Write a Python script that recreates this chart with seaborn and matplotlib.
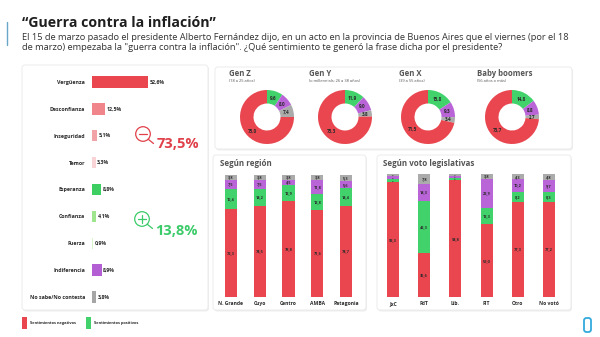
import numpy as np
import pandas as pd
import matplotlib
matplotlib.use('Agg')
import matplotlib.pyplot as plt
import seaborn as sns
from matplotlib.patches import FancyBboxPatch, Rectangle, Circle

# ---------------- data ----------------
sentiments = ['Vergüenza', 'Desconfianza', 'Inseguridad', 'Temor', 'Esperanza',
              'Confianza', 'Fuerza', 'Indiferencia', 'No sabe/No contesta']
sentiment_values = [52.6, 12.5, 5.1, 3.3, 8.8, 4.1, 0.9, 8.9, 3.8]
sentiment_colors = ['#E9464F', '#F0858C', '#F2A3A8', '#F9D3D5', '#3ECF62',
                    '#9EE58E', '#D6F5CB', '#B35FD3', '#A6A6A6']
neg_total_label = '73,5%'
pos_total_label = '13,8%'

generations = ['Gen Z', 'Gen Y', 'Gen X', 'Baby boomers']
generation_sub = ['(18 a 25 años)', '(o millennials: 26 a 38 años)',
                  '(39 a 55 años)', '(56 años o más)']
gen_neg = [75.0, 75.3, 71.5, 73.7]
gen_pos = [9.6, 11.9, 15.8, 14.8]
gen_ind = [8.0, 9.0, 9.3, 8.8]
gen_ns = [7.4, 3.8, 3.4, 2.7]

regions = ['N. Grande', 'Cuyo', 'Centro', 'AMBA', 'Patagonia']
reg_neg = [72.3, 74.5, 78.8, 71.6, 74.7]
reg_pos = [16.4, 14.2, 12.9, 12.8, 14.4]
reg_ind = [7.5, 7.5, 4.5, 11.8, 5.6]
reg_ns = [3.8, 3.8, 3.8, 3.8, 5.3]

votes = ['JxC', 'FdT', 'Lib.', 'FIT', 'Otro', 'No votó']
vote_neg = [93.3, 35.6, 94.8, 59.0, 77.3, 77.2]
vote_pos = [2.3, 42.3, 1.9, 13.3, 8.2, 8.3]
vote_ind = [2.5, 14.3, 1.5, 23.9, 10.2, 9.7]
vote_ns = [1.9, 7.8, 1.8, 3.8, 4.3, 4.8]

legend_labels = ['Sentimientos negativos', 'Sentimientos positivos']

RED, GREEN, PURPLE, GRAY = '#E9464F', '#41D26C', '#B965D8', '#ABABAB'
TXT = '#2A2A2A'

# ---------------- setup ----------------
sns.set_theme(style='white')
plt.rcParams['font.family'] = ['Open Sans', 'DejaVu Sans']

W, H = 600, 337
fig = plt.figure(figsize=(6, 3.37), dpi=100)
fig.patch.set_facecolor('white')


def rect(x, y, w, h):
    return [x / W, 1 - (y + h) / H, w / W, h / H]


def fmt(v):
    return f'{v:.1f}'.replace('.', ',')


# background axes for panels (pixel coordinates)
bg = fig.add_axes([0, 0, 1, 1], zorder=-5)
bg.set_xlim(0, W); bg.set_ylim(H, 0); bg.axis('off')
for (x, y, w, h) in [(22, 65, 186, 245), (215, 67, 357, 82),
                     (213, 155, 153, 155), (377, 155, 194, 155)]:
    bg.add_patch(FancyBboxPatch((x + 1, y + 1.5), w, h,
                                boxstyle='round,pad=0,rounding_size=3',
                                facecolor='#EFEFEF', edgecolor='none'))
    bg.add_patch(FancyBboxPatch((x, y), w, h,
                                boxstyle='round,pad=0,rounding_size=3',
                                facecolor='white', edgecolor='#E9E9E9', lw=0.6))

# overlay axes for text and decorations
ov = fig.add_axes([0, 0, 1, 1], zorder=10)
ov.set_xlim(0, W); ov.set_ylim(H, 0); ov.axis('off')
ov.patch.set_alpha(0)

renderer = fig.canvas.get_renderer()


def fit_text(x, y, s, target_w, size0=8, **kw):
    t = ov.text(x, y, s, fontsize=size0, **kw)
    w = t.get_window_extent(renderer).width
    t.set_fontsize(size0 * target_w / w)
    return t


t = fit_text(22, 23, '“Guerra contra la inflación”', 192, size0=12,
             fontweight='bold', color='#1E1E1E', va='center', ha='left')
s1 = fit_text(22, 37, 'El 15 de marzo pasado el presidente Alberto Fernández dijo, en un acto en la '
              'provincia de Buenos Aires que el viernes (por el 18', 554, size0=6,
              color='#333333', va='center', ha='left')
ov.text(22, 47.5, 'de marzo) empezaba la "guerra contra la inflación". ¿Qué sentimiento te generó '
        'la frase dicha por el presidente?', fontsize=s1.get_fontsize(),
        color='#333333', va='center', ha='left')
ov.plot([6.5, 6.5], [22, 45], color='#6AA6C8', lw=1.0)

# ---------------- left bar chart ----------------
axL = fig.add_axes(rect(92, 68.6, 100, 241.8))
axL.patch.set_alpha(0)
dfL = pd.DataFrame({'sent': sentiments, 'val': sentiment_values})
sns.barplot(data=dfL, y='sent', x='val', hue='sent', palette=sentiment_colors,
            legend=False, width=0.42, ax=axL, orient='h', linewidth=0, saturation=1)
axL.set_xlim(0, 100 / 1.07)
axL.set_ylim(len(sentiments) - 0.5, -0.5)
for i, v in enumerate(sentiment_values):
    axL.text(v + 1.6, i, fmt(v) + '%', va='center', ha='left', fontsize=3.8,
             fontweight='bold', color=TXT)
axL.set_xlabel(''); axL.set_ylabel('')
axL.set_xticks([])
axL.tick_params(axis='y', length=0, pad=5, labelsize=3.8)
for lab in axL.get_yticklabels():
    lab.set_fontweight('bold'); lab.set_color(TXT)
sns.despine(ax=axL, left=True, bottom=True)

# magnifier icons
for (cx, cy, col, sign, lab, tx, ty) in [(143, 134, '#E0404A', '-', neg_total_label, 157, 144),
                                         (142, 219, '#3CCB6A', '+', pos_total_label, 155, 231)]:
    ov.add_patch(Circle((cx, cy), 7.3, facecolor='none', edgecolor=col, lw=0.9))
    ov.plot([cx + 5.2, cx + 10.5], [cy + 5.2, cy + 9.5], color=col, lw=0.9)
    ov.plot([cx - 3.8, cx + 3.8], [cy, cy], color=col, lw=0.9)
    if sign == '+':
        ov.plot([cx, cx], [cy - 3.8, cy + 3.8], color=col, lw=0.9)
    ov.text(tx, ty, lab, color=col, fontsize=10.5, fontweight='bold', va='center', ha='left')

# ---------------- donuts ----------------
centers = [(267, 117), (345, 117), (428, 117), (512, 117)]
title_x = [229, 309, 399, 477]
R = 27
for k, g in enumerate(generations):
    cx, cy = centers[k]
    ax = fig.add_axes(rect(cx - R, cy - R, 2 * R, 2 * R))
    vals = [gen_pos[k], gen_ind[k], gen_ns[k], gen_neg[k]]
    cols = [GREEN, PURPLE, GRAY, RED]
    ax.pie(vals, colors=cols, startangle=90, counterclock=False,
           wedgeprops=dict(width=0.5, linewidth=0))
    ax.set_xlim(-1, 1); ax.set_ylim(-1, 1); ax.set_aspect('equal')
    start = 90.0
    for v in vals:
        mid = np.deg2rad(start - v * 3.6 / 2)
        r = 0.74
        ax.text(r * np.cos(mid), r * np.sin(mid), fmt(v), ha='center', va='center',
                fontsize=3.3, fontweight='bold', color=TXT)
        start -= v * 3.6
    ov.text(title_x[k], 74, g, fontsize=5.6, fontweight='bold', color='#555555',
            va='center', ha='left')
    ov.text(title_x[k], 81, generation_sub[k], fontsize=2.9, color='#555555',
            va='center', ha='left')


# ---------------- stacked bars ----------------
def stacked(cats, neg, pos, ind, ns, x0, x1, y0, y1, width):
    ax = fig.add_axes(rect(x0, y0, x1 - x0, y1 - y0))
    ax.patch.set_alpha(0)
    neg, pos, ind, ns = map(np.array, (neg, pos, ind, ns))
    layers = [(neg + pos + ind + ns, GRAY), (neg + pos + ind, PURPLE),
              (neg + pos, GREEN), (neg, RED)]
    for vals, col in layers:
        d = pd.DataFrame({'cat': cats, 'v': vals})
        sns.barplot(data=d, x='cat', y='v', color=col, width=width, ax=ax,
                    linewidth=0, saturation=1)
    bottoms = [np.zeros(len(cats)), neg, neg + pos, neg + pos + ind]
    for seg, bot in zip([neg, pos, ind, ns], bottoms):
        for i in range(len(cats)):
            fs = 2.8 if seg[i] >= 3 else 1.3
            ax.text(i, bot[i] + seg[i] / 2, fmt(seg[i]), ha='center', va='center',
                    fontsize=fs, fontweight='bold', color=TXT)
    ax.set_ylim(0, 100)
    ax.set_xlim(-0.5, len(cats) - 0.5)
    ax.set_xlabel(''); ax.set_ylabel(''); ax.set_yticks([])
    ax.tick_params(axis='x', length=0, pad=3, labelsize=3.6)
    for lab in ax.get_xticklabels():
        lab.set_fontweight('bold'); lab.set_color(TXT)
    sns.despine(ax=ax, left=True, bottom=True)
    return ax


stacked(regions, reg_neg, reg_pos, reg_ind, reg_ns, 216.6, 360.4, 175, 297, 0.42)
stacked(votes, vote_neg, vote_pos, vote_ind, vote_ns, 377.4, 564.6, 174, 297, 0.38)
ov.text(220, 164, 'Según región', fontsize=5.8, fontweight='bold', color='#555555',
        va='center', ha='left')
ov.text(383, 164, 'Según voto legislativas', fontsize=5.8, fontweight='bold',
        color='#555555', va='center', ha='left')

# ---------------- legend ----------------
ov.add_patch(Rectangle((22, 317), 4.5, 12, facecolor=RED, edgecolor='none'))
ov.text(30, 323, legend_labels[0], fontsize=2.9, fontweight='bold', color=TXT, va='center')
ov.add_patch(Rectangle((86, 317), 4.5, 12, facecolor=GREEN, edgecolor='none'))
ov.text(94, 323, legend_labels[1], fontsize=2.9, fontweight='bold', color=TXT, va='center')

# logo
ov.add_patch(FancyBboxPatch((584, 318), 7, 14, boxstyle='round,pad=0,rounding_size=2.5',
                            facecolor='white', edgecolor='#34A9DD', lw=1.3))

fig.savefig('out.png', dpi=100, facecolor='white')
